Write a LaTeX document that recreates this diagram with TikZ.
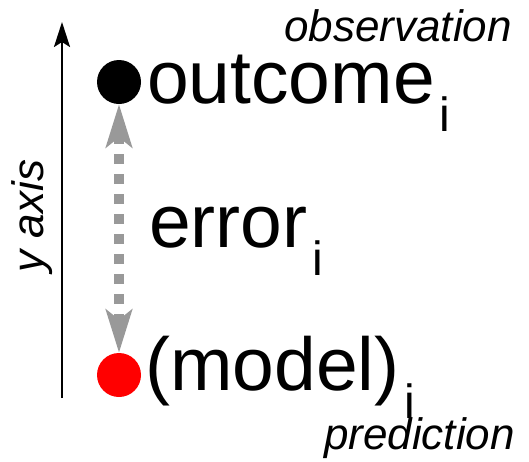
\documentclass[tikz,border=0pt]{standalone}
\usepackage{fontspec}
\setmainfont{Liberation Sans}
\usepackage{xcolor}
\usepackage{tikz}
\usetikzlibrary{arrows.meta, positioning}

\definecolor{errgray}{HTML}{999999}
\newcommand{\subi}{\hspace{5pt}\smash{\raisebox{-28pt}{\fontsize{48}{48}\selectfont i}}}

\begin{document}
\begin{tikzpicture}[
    x=1pt, y=-1pt,
    dot/.style={
        circle, inner sep=0pt, minimum size=44pt
    },
    bigtext/.style={
        inner sep=0pt, anchor=base west,
        font=\fontsize{75}{75}\selectfont
    },
    note/.style={
        inner sep=0pt, font=\fontsize{44}{44}\selectfont\itshape
    },
    axisline/.style={line width=2.5pt, -{Stealth[length=25pt, width=16pt, inset=5pt]}},
    errarrow/.style={
        line width=10pt, draw=errgray, dash pattern=on 10pt off 10pt,
        {Stealth[length=43pt, width=26pt, inset=10pt, fill=errgray]}-{Stealth[length=43pt, width=26pt, inset=10pt, fill=errgray]}
    }
]
\useasboundingbox (0,0) rectangle (529,461);

% y axis
\coordinate (axisbot) at (62,398);
\coordinate (axistop) at (62,22);
\draw[axisline] (axisbot) -- (axistop);
\node[note, rotate=90, anchor=base] (ylabel) at (43,216) {y axis};

% Dots
\node[dot, fill=black] (obs) at (119,82) {};
\node[dot, fill=red] (pred) at (119,375) {};

% Labels
\node[bigtext] (outcome) at (147,103) {outcome\subi};
\node[bigtext] (error) at (149,247) {error\subi};
\node[bigtext] (model) at (145,390) {(model)\subi};
\node[note, anchor=base east] (obslabel) at (512,41) {observation};
\node[note, anchor=base east] (predlabel) at (515,449) {prediction};

% Error arrow
\draw[errarrow] (obs) -- (pred);

\end{tikzpicture}
\end{document}
